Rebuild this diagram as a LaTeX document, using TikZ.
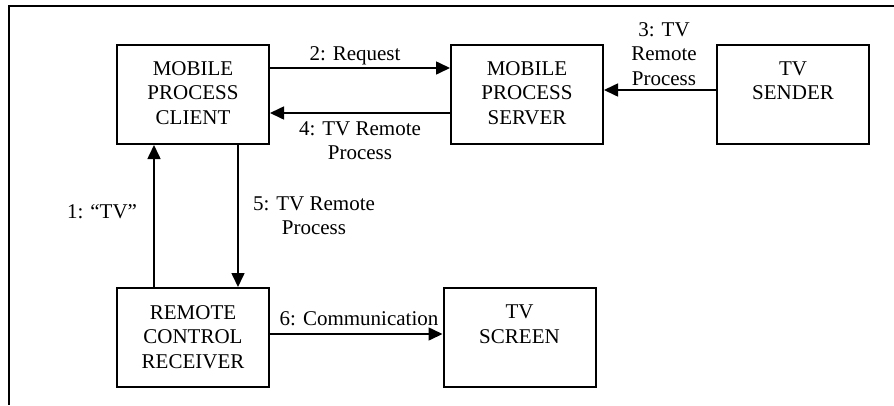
\documentclass[tikz,border=0pt]{standalone}
\usepackage{fontspec}
\setmainfont{Liberation Serif}
\usetikzlibrary{arrows.meta}
\begin{document}
\begin{tikzpicture}[x=1pt,y=-1pt,
  box/.style={draw,line width=2pt,minimum width=152pt,minimum height=99pt,inner sep=0pt},
  txt/.style={anchor=base,align=center,inner sep=0pt,font=\fontsize{21}{24.5}\selectfont},
  arr/.style={line width=1.6pt,-{Triangle[length=14pt,width=13pt]}}]
\useasboundingbox (0,0) rectangle (894,405);
\draw[line width=2pt] (894,5.5) -- (9,5.5) -- (9,405);
% boxes
\node[box] (mpc) at (193,94.5) {};
\node[box] (mps) at (527,94.5) {};
\node[box] (tvs) at (793,94.5) {};
\node[box] (rcr) at (193,337.5) {};
\node[box] (scr) at (519.5,337.5) {};
% box texts (anchor = baseline of last line)
\node[txt] (mpct) at (193,124) {MOBILE\\PROCESS\\CLIENT};
\node[txt] (mpst) at (527,124) {MOBILE\\PROCESS\\SERVER};
\node[txt] (tvst) at (793,99.5) {TV\\SENDER};
\node[txt] (rcrt) at (193,368) {REMOTE\\CONTROL\\RECEIVER};
\node[txt] (scrt) at (519.5,343) {TV\\SCREEN};
% connectors
\draw[arr] (mpc.east |- 0,68) -- (mps.west |- 0,68);
\draw[arr] (mps.west |- 0,113) -- (mpc.east |- 0,113);
\draw[arr] (tvs.west |- 0,90) -- (mps.east |- 0,90);
\draw[arr] (rcr.north -| 154,0) -- (mpc.south -| 154,0);
\draw[arr] (mpc.south -| 238,0) -- (rcr.north -| 238,0);
\draw[arr] (rcr.east |- 0,334) -- (scr.west |- 0,334);
% connector labels
\node[txt] (l2) at (355,60) {2: Request};
\node[txt] (l4) at (360,159.5) {4: TV Remote\\Process};
\node[txt] (l3) at (664,85) {3: TV\\Remote\\Process};
\node[txt] (l1) at (102,218) {1: “TV”};
\node[txt] (l5) at (314,234.5) {5: TV Remote\\Process};
\node[txt] (l6) at (359,325) {6: Communication};
\end{tikzpicture}
\end{document}
